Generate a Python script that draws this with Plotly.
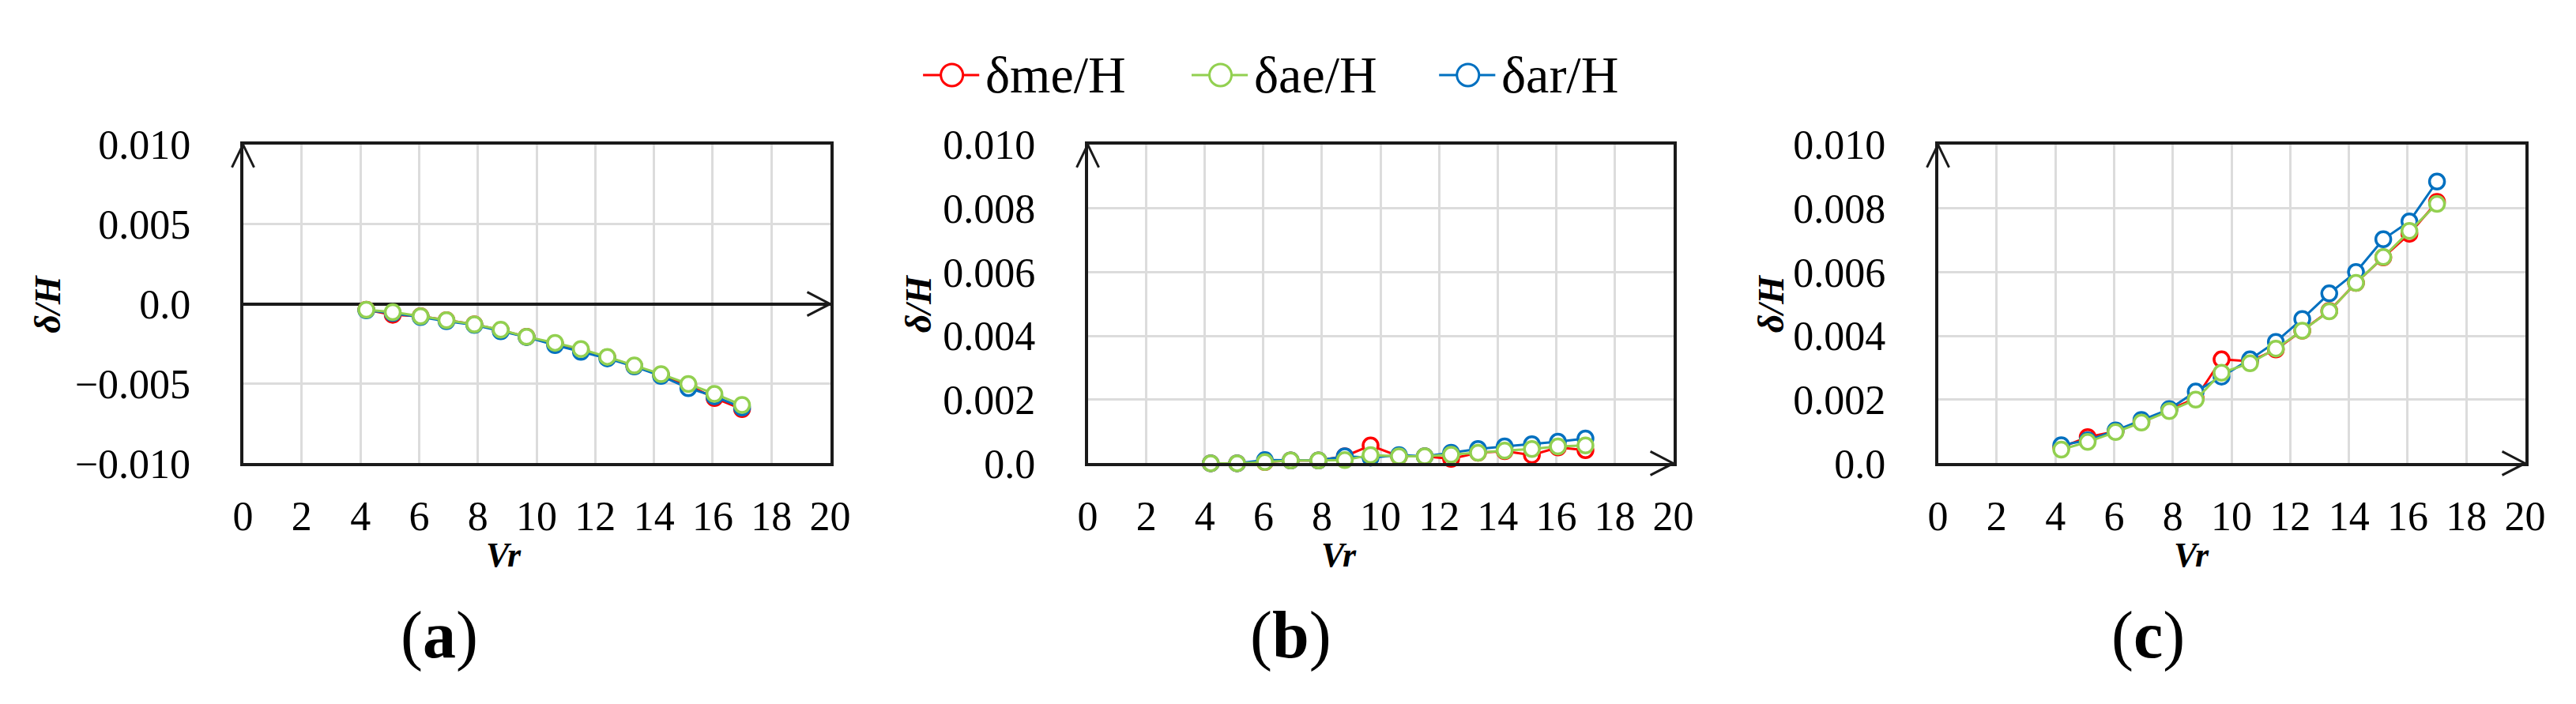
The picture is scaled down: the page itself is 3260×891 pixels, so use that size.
import plotly.graph_objects as go

W, H = 3260, 891

# ---------------- data ----------------
Vr = [4.2, 5.1, 6.05, 6.93, 7.88, 8.78, 9.66, 10.63, 11.51, 12.41, 13.33, 14.24, 15.17, 16.06, 17.0]

me_a = [-0.00036, -0.00068, -0.00077, -0.00102, -0.00128, -0.00165, -0.00206, -0.00250,
        -0.00290, -0.00335, -0.00390, -0.00445, -0.00510, -0.00590, -0.00660]
ae_a = [-0.00036, -0.00051, -0.00077, -0.00102, -0.00128, -0.00162, -0.00206, -0.00244,
        -0.00283, -0.00332, -0.00386, -0.00440, -0.00502, -0.00564, -0.00634]
ar_a = [-0.00040, -0.00058, -0.00082, -0.00108, -0.00132, -0.00172, -0.00208, -0.00258,
        -0.00300, -0.00342, -0.00392, -0.00452, -0.00528, -0.00580, -0.00650]

me_b = [0.0, 0.0, 0.00004, 0.00009, 0.00009, 0.00022, 0.00056, 0.00022,
        0.00022, 0.00014, 0.00033, 0.00038, 0.00026, 0.00050, 0.00041]
ae_b = [0.0, 0.0, 0.00004, 0.00009, 0.00009, 0.00010, 0.00026, 0.00022,
        0.00022, 0.00027, 0.00033, 0.00040, 0.00045, 0.00053, 0.00056]
ar_b = [0.0, 0.0, 0.00010, 0.00009, 0.00009, 0.00022, 0.00018, 0.00026,
        0.00022, 0.00033, 0.00045, 0.00053, 0.00060, 0.00068, 0.00078]

me_c = [0.00050, 0.00082, 0.00100, 0.00130, 0.00168, 0.00204, 0.00326, 0.00320,
        0.00357, 0.00416, 0.00478, 0.00566, 0.00646, 0.00720, 0.00820]
ae_c = [0.00043, 0.00067, 0.00098, 0.00128, 0.00164, 0.00200, 0.00284, 0.00314,
        0.00360, 0.00416, 0.00477, 0.00566, 0.00647, 0.00729, 0.00814]
ar_c = [0.00057, 0.00072, 0.00103, 0.00136, 0.00170, 0.00225, 0.00272, 0.00326,
        0.00381, 0.00453, 0.00533, 0.00600, 0.00703, 0.00759, 0.00884]

series_names = ["δme/H", "δae/H", "δar/H"]
series_colors = ["#FF0000", "#92D050", "#0070C0"]

x_ticks = [0, 2, 4, 6, 8, 10, 12, 14, 16, 18, 20]
ya_ticks = [-0.010, -0.005, 0.0, 0.005, 0.010]
ya_text = ["−0.010", "−0.005", "0.0", "0.005", "0.010"]
ybc_ticks = [0.0, 0.002, 0.004, 0.006, 0.008, 0.010]
ybc_text = ["0.0", "0.002", "0.004", "0.006", "0.008", "0.010"]
panel_labels = ["a", "b", "c"]

# ---------------- layout geometry (pixels) ----------------
FONT = "Liberation Serif"
panels_px = [(290, 1042), (1372, 2122), (2461, 3213)]
top_px, bot_px = 157, 588
ydom = [(H - bot_px) / H, (H - top_px) / H]

fig = go.Figure()

panel_data = [
    (me_a, ae_a, ar_a),
    (me_b, ae_b, ar_b),
    (me_c, ae_c, ar_c),
]

for i, (me, ae, ar) in enumerate(panel_data):
    xa = "x" if i == 0 else f"x{i+1}"
    ya = "y" if i == 0 else f"y{i+1}"
    # draw order: red, blue, green (green on top)
    for idx, vals in [(0, me), (2, ar), (1, ae)]:
        fig.add_trace(go.Scatter(
            x=Vr, y=vals, xaxis=xa, yaxis=ya, mode="lines+markers",
            name=series_names[idx], showlegend=False, cliponaxis=False,
            line=dict(color=series_colors[idx], width=3),
            marker=dict(symbol="circle", size=19, color="white",
                        line=dict(color=series_colors[idx], width=3.5)),
        ))

axis_common = dict(
    showline=True, linecolor="#1a1a1a", linewidth=4, mirror=True,
    showgrid=True, gridcolor="#dcdcdc", gridwidth=3,
    tickfont=dict(family=FONT, size=52, color="black"),
    ticks="outside", ticklen=0, tickcolor="white",
)

layout = dict(
    width=W, height=H, margin=dict(l=0, r=0, t=0, b=0),
    paper_bgcolor="white", plot_bgcolor="white", showlegend=False,
)

for i, (l, r) in enumerate(panels_px):
    xk = "xaxis" if i == 0 else f"xaxis{i+1}"
    yk = "yaxis" if i == 0 else f"yaxis{i+1}"
    xa = "x" if i == 0 else f"x{i+1}"
    ya = "y" if i == 0 else f"y{i+1}"
    layout[xk] = dict(axis_common, domain=[l / W, r / W], range=[0, 20],
                      tickvals=x_ticks, ticktext=[str(t) for t in x_ticks],
                      anchor=ya, zeroline=False, ticklabelstandoff=18)
    if i == 0:
        layout[yk] = dict(axis_common, domain=ydom, range=[-0.010, 0.010],
                          tickvals=ya_ticks, ticktext=ya_text, anchor=xa,
                          zeroline=True, zerolinecolor="#1a1a1a", zerolinewidth=4,
                          ticklabelstandoff=52)
    else:
        layout[yk] = dict(axis_common, domain=ydom, range=[0, 0.010],
                          tickvals=ybc_ticks, ticktext=ybc_text, anchor=xa,
                          zeroline=False, ticklabelstandoff=52)

fig.update_layout(**layout)

# ---------------- arrows on axes (paper coords, not clipped) ----------------
for i, (l, r) in enumerate(panels_px):
    y_top = ydom[1]
    y_xaxis = (ydom[0] + ydom[1]) / 2 if i == 0 else ydom[0]
    fig.add_shape(type="path", xref="paper", yref="paper", xsizemode="pixel",
                  ysizemode="pixel", xanchor=l / W, yanchor=y_top,
                  path="M-14,-29 L0,0 L14,-29",
                  line=dict(color="#1a1a1a", width=3))
    fig.add_shape(type="path", xref="paper", yref="paper", xsizemode="pixel",
                  ysizemode="pixel", xanchor=r / W, yanchor=y_xaxis,
                  path="M-29,15 L0,0 L-29,-15",
                  line=dict(color="#1a1a1a", width=3))

# ---------------- annotations: axis titles & panel labels ----------------
vr_x = [624, 1694, 2786]
ytitle_x = [40, 1155, 2247]
label_x = [541, 1632, 2730]
for i in range(3):
    fig.add_annotation(xref="paper", yref="paper", x=vr_x[i] / W, y=1 - 712 / H,
                       text="<b><i>Vr</i></b>", showarrow=False,
                       font=dict(family=FONT, size=44, color="black"),
                       xanchor="center", yanchor="middle")
    fig.add_annotation(xref="paper", yref="paper", x=ytitle_x[i] / W, y=1 - 373 / H,
                       text="<b><i>δ/H</i></b>", showarrow=False, textangle=-90,
                       font=dict(family=FONT, size=46, color="black"),
                       xanchor="center", yanchor="middle")
    fig.add_annotation(xref="paper", yref="paper", x=label_x[i] / W, y=1 - 820 / H,
                       text=f"(<b>{panel_labels[i]}</b>)", showarrow=False,
                       font=dict(family=FONT, size=84, color="black"),
                       xanchor="center", yanchor="middle")

# ---------------- custom legend ----------------
leg_y = 63
leg_starts = [1161, 1505, 1822]
for k in range(3):
    x0 = leg_starts[k]
    c = series_colors[k]
    fig.add_shape(type="line", xref="paper", yref="paper",
                  x0=x0 / W, x1=(x0 + 72) / W, y0=1 - leg_y / H, y1=1 - leg_y / H,
                  line=dict(color=c, width=3))
    fig.add_shape(type="circle", xref="paper", yref="paper", xsizemode="pixel",
                  ysizemode="pixel", xanchor=(x0 + 37) / W, yanchor=1 - leg_y / H,
                  x0=-14, x1=14, y0=-14, y1=14, fillcolor="white",
                  line=dict(color=c, width=3))
    fig.add_annotation(xref="paper", yref="paper", x=(x0 + 78) / W, y=1 - leg_y / H,
                       text=series_names[k], showarrow=False,
                       font=dict(family=FONT, size=66, color="black"),
                       xanchor="left", yanchor="middle")

fig.write_html("out.html")
